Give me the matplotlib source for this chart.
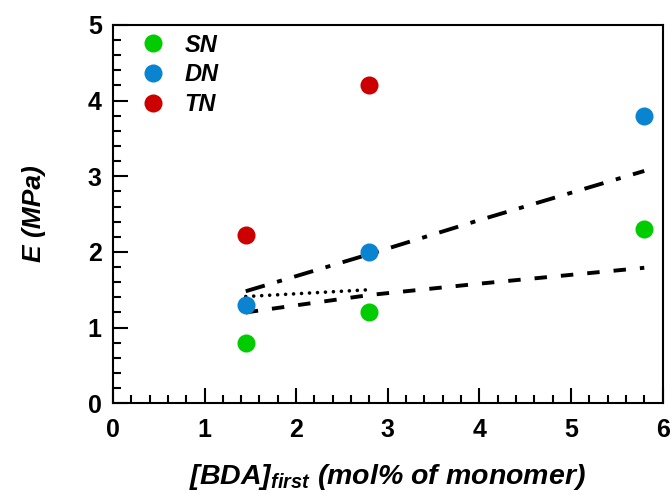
import matplotlib
matplotlib.use("Agg")
import matplotlib.pyplot as plt
from matplotlib.ticker import MultipleLocator

plt.rcParams['font.family'] = ['Liberation Sans', 'DejaVu Sans']
plt.rcParams['mathtext.fontset'] = 'custom'
plt.rcParams['mathtext.it'] = 'Liberation Sans:bold:italic'
plt.rcParams['mathtext.rm'] = 'Liberation Sans:bold:italic'
plt.rcParams['mathtext.default'] = 'it'

# data
bda = [1.45, 2.8, 5.8]
E_SN = [0.8, 1.2, 2.3]
E_DN = [1.3, 2.0, 3.8]
E_TN = [2.22, 4.2]

# fitted trend lines
fit_x = [1.45, 2.8, 4.0, 5.8]
fit_dn = [1.48, 1.97, 2.42, 3.07]
fit_sn = [1.2, 1.43, 1.58, 1.79]
dot_x = [1.45, 2.8]
dot_y = [1.41, 1.5]

fig = plt.figure(figsize=(6.72, 4.99), dpi=100)
ax = fig.add_axes([0.168, 0.192, 0.818, 0.758])

lw = 2.8
ax.plot(fit_x, fit_dn, color='black', lw=lw, dashes=[5.1, 3.3, 1.3, 3.3])
ax.plot(fit_x, fit_sn, color='black', lw=lw, dashes=[3.2, 3.6])
ax.plot(dot_x, dot_y, color='black', lw=2.6, dashes=[0.01, 2.2], dash_capstyle='round')

ms = 13
ax.plot(bda, E_SN, 'o', color='#00cc00', ms=ms, mec='none', label='SN')
ax.plot(bda, E_DN, 'o', color='#0a84d0', ms=ms, mec='none', label='DN')
ax.plot(bda[:2], E_TN, 'o', color='#cc0000', ms=ms, mec='none', label='TN')

ax.set_xlim(0, 6)
ax.set_ylim(0, 5)
ax.xaxis.set_major_locator(MultipleLocator(1))
ax.xaxis.set_minor_locator(MultipleLocator(0.2))
ax.yaxis.set_major_locator(MultipleLocator(1))
ax.yaxis.set_minor_locator(MultipleLocator(0.2))
ax.tick_params(which='both', direction='in', top=False, right=False, width=1.5,
               labelsize=18)
ax.tick_params(which='major', length=11)
ax.tick_params(axis='x', pad=11)
ax.tick_params(axis='y', pad=8)
ax.tick_params(which='minor', length=5.5)
for lab in ax.get_xticklabels() + ax.get_yticklabels():
    lab.set_fontweight('bold')
for s in ax.spines.values():
    s.set_linewidth(1.5)

ax.set_xlabel('[BDA]$_{first}$ (mol% of monomer)', fontsize=20.5, fontweight='bold',
              fontstyle='italic', labelpad=14)
ax.set_ylabel('E (MPa)', fontsize=19, fontweight='bold', fontstyle='italic', labelpad=30)

ax.legend(loc='upper left', bbox_to_anchor=(0.051, 0.977), frameon=False,
          prop={'weight': 'bold', 'style': 'italic', 'size': 17},
          handletextpad=0.85, labelspacing=0.29, borderaxespad=0, borderpad=0,
          handlelength=1.0)

fig.savefig('out.png', dpi=100)
